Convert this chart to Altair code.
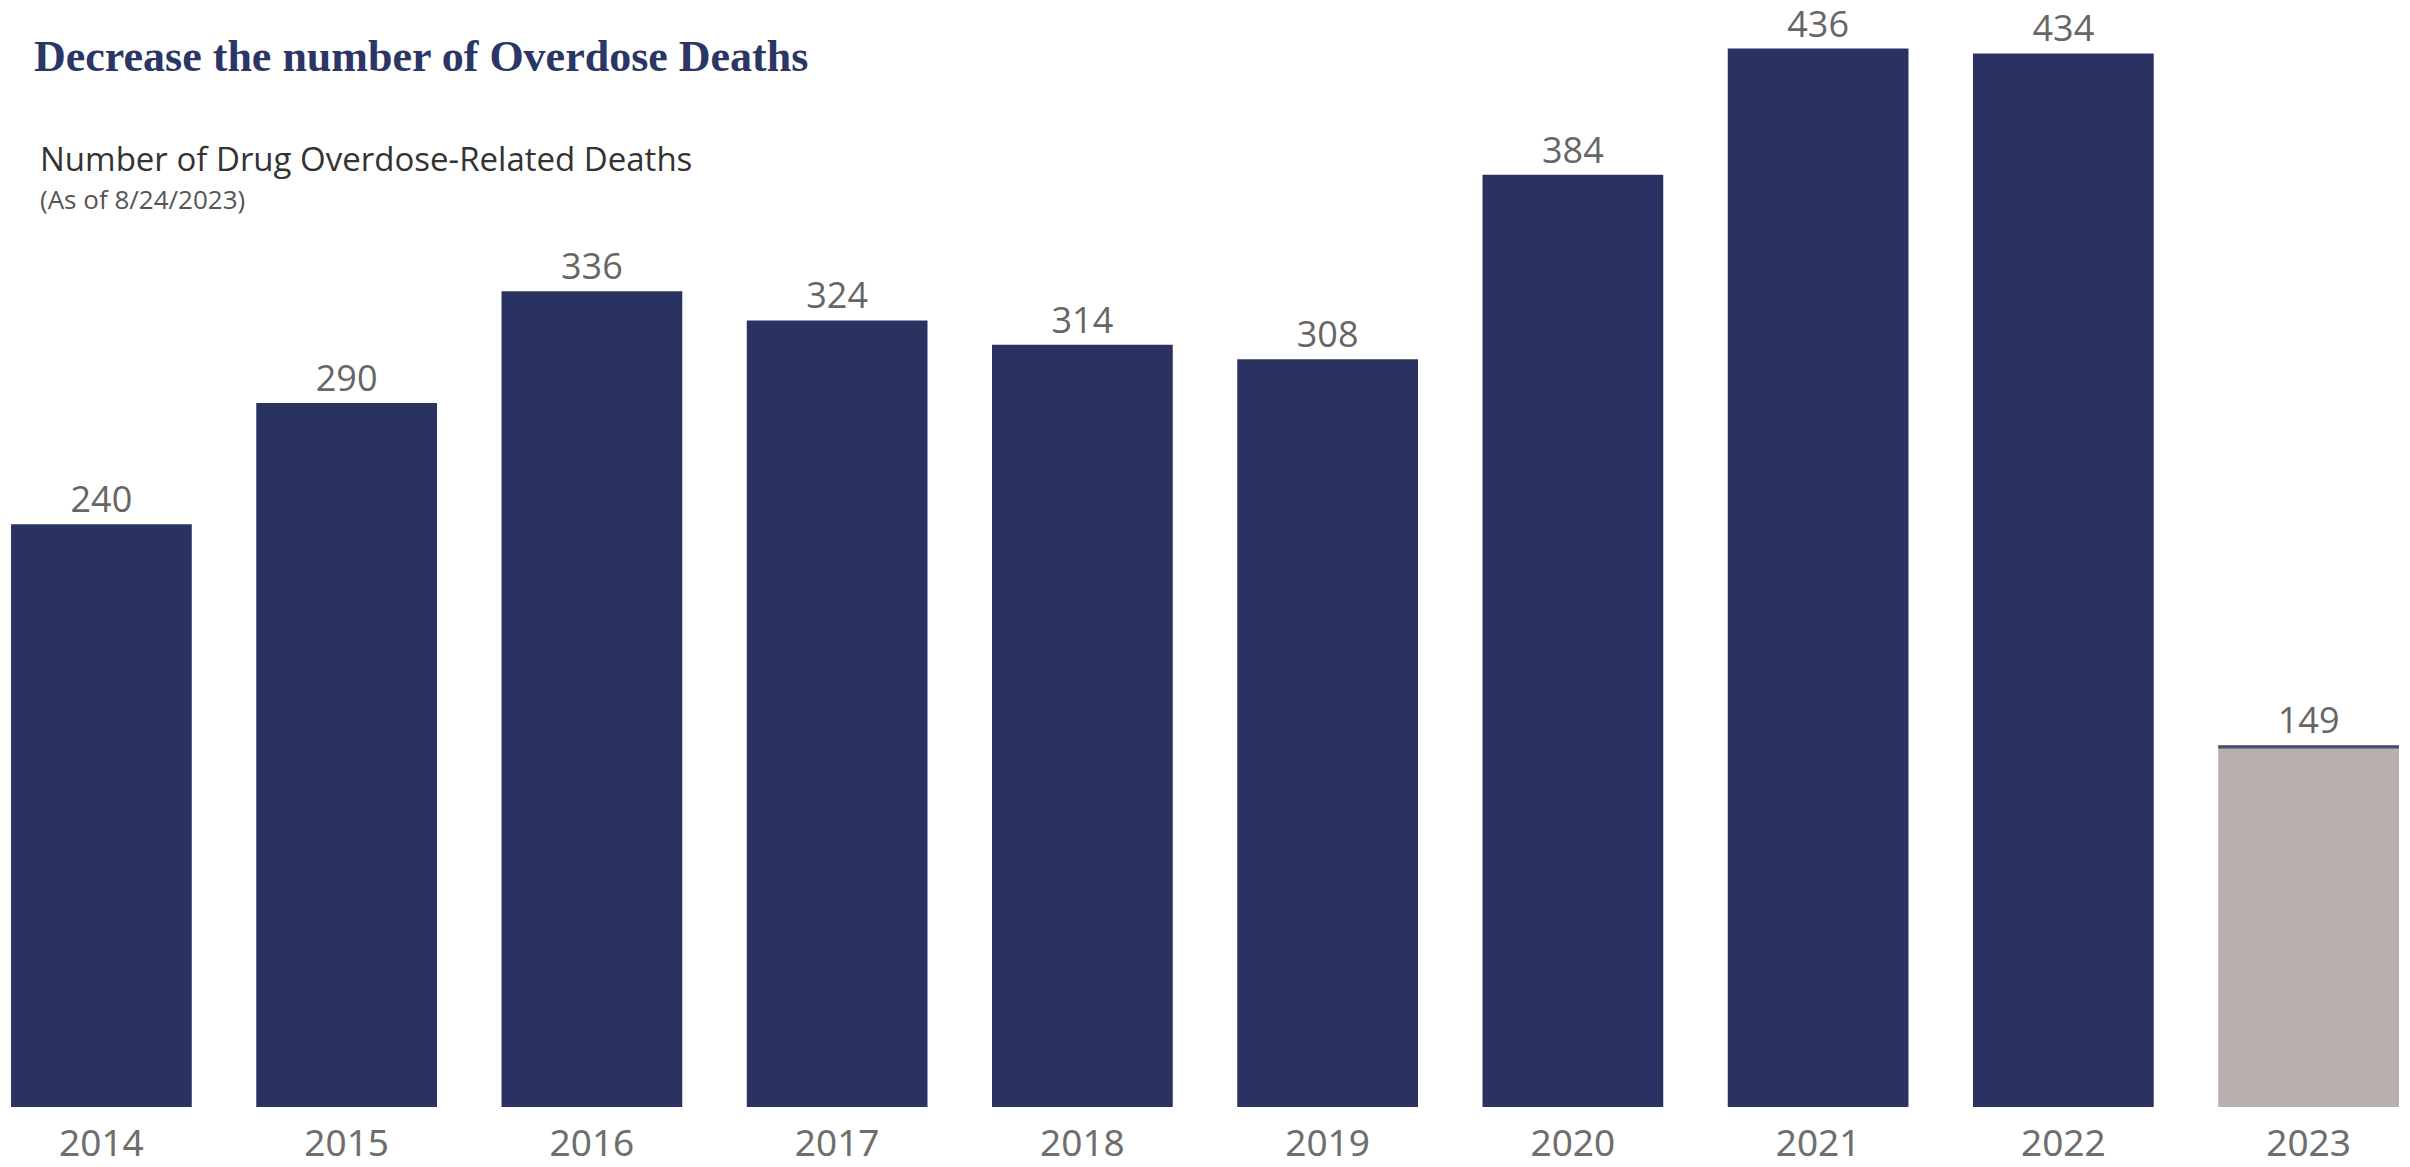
import altair as alt
import pandas as pd

years = ["2014", "2015", "2016", "2017", "2018", "2019", "2020", "2021", "2022", "2023"]
deaths = [240, 290, 336, 324, 314, 308, 384, 436, 434, 149]
status = ["full"] * 9 + ["partial"]

title_text = "Decrease the number of Overdose Deaths"
subtitle_text = "Number of Drug Overdose-Related Deaths"
note_text = "(As of 8/24/2023)"

df = pd.DataFrame({"year": years, "deaths": deaths, "status": status})

NAVY = "#2a3262"
TAUPE = "#b8b0ac"

x_enc = alt.X(
    "year:N",
    sort=years,
    scale=alt.Scale(paddingInner=0.263, paddingOuter=0.045),
    axis=alt.Axis(
        title=None, labelAngle=0, domain=False, ticks=False, grid=False,
        labelFont="Noto Sans", labelFontSize=37,
        labelColor="#6e6e6e", labelPadding=19,
    ),
)
y_scale = alt.Scale(domain=[0, 456], nice=False, zero=True)

base = alt.Chart(df)

bars = base.mark_bar().encode(
    x=x_enc,
    y=alt.Y("deaths:Q", scale=y_scale, axis=None),
    color=alt.Color("status:N", scale=alt.Scale(domain=["full", "partial"], range=[NAVY, TAUPE]), legend=None),
)

cap = base.transform_filter(alt.datum.status == "partial").transform_calculate(
    lo="datum.deaths - 1.3"
).mark_bar(color="#4a4f72").encode(
    x=alt.X("year:N", sort=years),
    y=alt.Y("deaths:Q", scale=y_scale),
    y2="lo:Q",
)

labels = base.mark_text(
    baseline="alphabetic", dy=-12, font="Open Sans", fontSize=36, color="#666666"
).encode(
    x=alt.X("year:N", sort=years),
    y=alt.Y("deaths:Q", scale=y_scale),
    text="deaths:Q",
)

t1 = alt.Chart(pd.DataFrame({"t": [title_text]})).mark_text(
    align="left", baseline="middle", font="Liberation Serif", fontWeight="bold",
    fontSize=44, color="#2b3566"
).encode(x=alt.value(34), y=alt.value(58), text="t:N")

t2 = alt.Chart(pd.DataFrame({"t": [subtitle_text]})).mark_text(
    align="left", baseline="middle", font="Open Sans", fontSize=33, color="#333333"
).encode(x=alt.value(40), y=alt.value(161), text="t:N")

t3 = alt.Chart(pd.DataFrame({"t": [note_text]})).mark_text(
    align="left", baseline="middle", font="Open Sans", fontSize=26, color="#555555"
).encode(x=alt.value(40), y=alt.value(201), text="t:N")

chart = alt.layer(bars, cap, labels, t1, t2, t3).properties(
    width=2410, height=1107, autosize="none",
    padding={"left": 0, "top": 0, "right": 0, "bottom": 60},
    background="white",
).configure_view(stroke=None)

chart.save("out.html", embed_options={"renderer": "svg", "actions": False})
